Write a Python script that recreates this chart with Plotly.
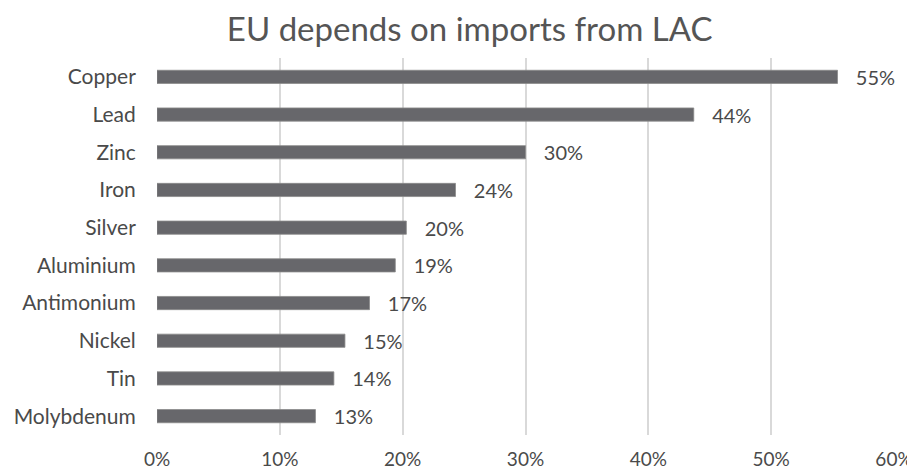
import plotly.graph_objects as go

categories = ["Copper", "Lead", "Zinc", "Iron", "Silver", "Aluminium",
              "Antimonium", "Nickel", "Tin", "Molybdenum"]
values = [0.554, 0.437, 0.300, 0.243, 0.203, 0.194, 0.173, 0.153, 0.144, 0.129]
tick_vals = [0, 0.1, 0.2, 0.3, 0.4, 0.5, 0.6]
tick_text = ["0%", "10%", "20%", "30%", "40%", "50%", "60%"]

FONT = "Lato"
TXT = "#4a4a4a"

fig = go.Figure(go.Bar(
    x=values,
    y=categories,
    orientation="h",
    marker=dict(color="#67676b", line=dict(color="#8a8a8a", width=0.8)),
    texttemplate="\u00a0\u00a0\u00a0%{x:.0%}",
    textposition="outside",
    constraintext="none",
    cliponaxis=False,
    outsidetextfont=dict(family=FONT, size=20, color=TXT),
    width=0.35,
))

# page body has an 8px default margin, so the figure is sized to fit
fig.update_layout(
    width=907, height=464,
    margin=dict(l=149, r=21, t=50, b=37),
    paper_bgcolor="white", plot_bgcolor="white",
    showlegend=False,
    title=dict(text="EU depends on imports from LAC", x=0.509, xanchor="center",
               y=0.953, yanchor="middle",
               font=dict(family=FONT, size=33, color="#555555")),
    font=dict(family=FONT, color=TXT),
)
fig.update_xaxes(range=[0, 0.6], tickvals=tick_vals, ticktext=tick_text,
                 showgrid=True, gridcolor="#d9d9d9", gridwidth=2,
                 zeroline=False, showline=False, automargin=False,
                 ticks="outside", ticklen=7, tickcolor="rgba(0,0,0,0)",
                 tickfont=dict(family=FONT, size=19, color=TXT))
fig.update_yaxes(autorange="reversed", showgrid=False, zeroline=False,
                 automargin=False,
                 ticks="outside", ticklen=16, tickcolor="rgba(0,0,0,0)",
                 tickfont=dict(family=FONT, size=21, color=TXT))

fig.write_html("out.html")
